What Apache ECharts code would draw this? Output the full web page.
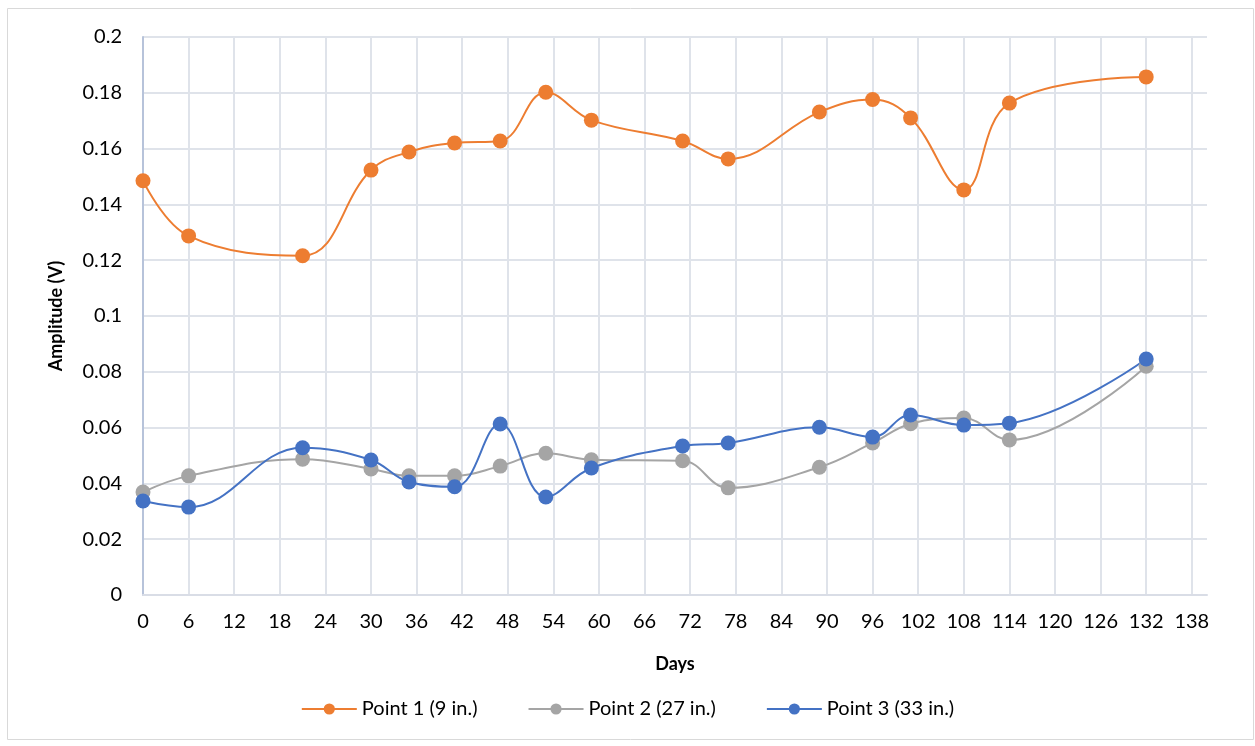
<!DOCTYPE html>
<html>
<head>
<meta charset="utf-8">
<script src="https://cdn.jsdelivr.net/npm/echarts@6/dist/echarts.min.js"></script>
<style>
  html, body { margin: 0; padding: 0; background: #fff; }
  #chart { width: 1255px; height: 746px; }
</style>
</head>
<body>
<div id="chart"></div>
<script>
  const days = [0, 6, 21, 30, 35, 41, 47, 53, 59, 71, 77, 89, 96, 101, 108, 114, 132];
  const point1 = [0.1485, 0.1287, 0.1216, 0.1523, 0.1588, 0.162, 0.1627, 0.1802, 0.1702, 0.1627, 0.1563, 0.1731, 0.1776, 0.171, 0.1452, 0.1763, 0.1857];
  const point2 = [0.0369, 0.0427, 0.0487, 0.0452, 0.0427, 0.0427, 0.0462, 0.0508, 0.0485, 0.0481, 0.0384, 0.0458, 0.0545, 0.0614, 0.0634, 0.0556, 0.082];
  const point3 = [0.0337, 0.0315, 0.0528, 0.0484, 0.0405, 0.0388, 0.0613, 0.0351, 0.0455, 0.0534, 0.0545, 0.0601, 0.0566, 0.0645, 0.0609, 0.0616, 0.0846];
  const seriesNames = ['Point 1 (9 in.)', 'Point 2 (27 in.)', 'Point 3 (33 in.)'];
  const colors = ['#ED7D31', '#A5A5A5', '#4472C4'];

  const font = 'Lato, "Open Sans", sans-serif';
  const chart = echarts.init(document.getElementById('chart'));

  const makeSeries = (name, values, color) => ({
    name: name,
    type: 'line',
    smooth: 0.4,
    data: days.map((d, i) => [d, values[i]]),
    symbol: 'circle',
    symbolSize: 15,
    lineStyle: { color: color, width: 2 },
    itemStyle: { color: color },
    emphasis: { disabled: true }
  });

  const options = {
    animation: false,
    graphic: [
      {
        type: 'rect',
        shape: { x: 7.5, y: 8.5, width: 1246, height: 731 },
        style: { fill: 'none', stroke: '#d9d9d9', lineWidth: 1 },
        silent: true
      }
    ],
    grid: {
      left: 143,
      right: 48,
      top: 37,
      bottom: 151
    },
    legend: {
      bottom: 22,
      left: 'center',
      itemWidth: 55,
      itemHeight: 14,
      itemGap: 50,
      textStyle: { fontFamily: font, fontSize: 20, color: '#000' },
      data: seriesNames
    },
    xAxis: {
      type: 'value',
      min: 0,
      max: 140,
      interval: 6,
      name: 'Days',
      nameLocation: 'middle',
      nameGap: 60,
      nameTextStyle: { fontFamily: font, fontSize: 18, fontWeight: 'bold', color: '#000' },
      axisLine: { show: true, lineStyle: { color: '#d9dde6', width: 2 } },
      axisTick: { show: false },
      axisLabel: {
        fontFamily: font, fontSize: 20, color: '#000', margin: 17,
        showMaxLabel: false
      },
      splitLine: { show: true, showMaxLine: false, lineStyle: { color: '#dfe3ea', width: 2 } }
    },
    yAxis: {
      type: 'value',
      min: 0,
      max: 0.2,
      interval: 0.02,
      name: 'Amplitude (V)',
      nameLocation: 'middle',
      nameGap: 78,
      nameTextStyle: { fontFamily: font, fontSize: 18, fontWeight: 'bold', color: '#000' },
      axisLine: { show: true, lineStyle: { color: '#b7c3da', width: 2 } },
      axisTick: { show: false },
      axisLabel: {
        fontFamily: font, fontSize: 20, color: '#000', margin: 21,
        formatter: (v) => String(parseFloat(v.toFixed(2)))
      },
      splitLine: { show: true, lineStyle: { color: '#dfe3ea', width: 2 } }
    },
    series: [
      makeSeries(seriesNames[0], point1, colors[0]),
      makeSeries(seriesNames[1], point2, colors[1]),
      makeSeries(seriesNames[2], point3, colors[2])
    ]
  };

  chart.setOption(options);
</script>
</body>
</html>
